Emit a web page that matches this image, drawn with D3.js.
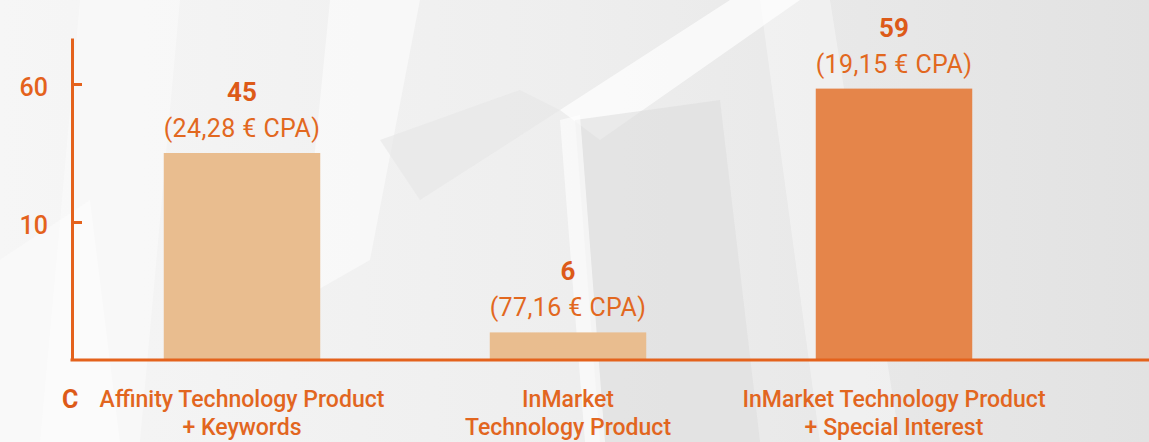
<!DOCTYPE html>
<html>
<head>
<meta charset="utf-8">
<script src="https://cdn.jsdelivr.net/npm/d3@7"></script>
<style>
  html, body { margin: 0; padding: 0; overflow: hidden; }
  body { width: 1149px; height: 442px; }
  text { font-family: Roboto, "Open Sans", sans-serif; }
</style>
</head>
<body>
<div id="chart"></div>
<script>
// chart data
var categories = [
  ["Affinity Technology Product", "+ Keywords"],
  ["InMarket", "Technology Product"],
  ["InMarket Technology Product", "+ Special Interest"]
];
var conversions = [45, 6, 59];
var cpaLabels = ["(24,28 € CPA)", "(77,16 € CPA)", "(19,15 € CPA)"];
var barColors = ["#e9bd8f", "#e9bd8f", "#e5854a"];
var tickValues = [30, 60];
var tickLabels = ["10", "60"];

var W = 1149, H = 442;
var orange = "#e4621c";
var squeeze = 0.96; // slightly condensed look

var svg = d3.select("#chart")
  .append("svg")
    .attr("width", W)
    .attr("height", H);

// background
var defs = svg.append("defs");
var grad = defs.append("linearGradient").attr("id", "bg")
  .attr("x1", "0").attr("y1", "0").attr("x2", "1").attr("y2", "0");
grad.append("stop").attr("offset", "0").attr("stop-color", "#f6f6f6");
grad.append("stop").attr("offset", "0.5").attr("stop-color", "#eeeeee");
grad.append("stop").attr("offset", "1").attr("stop-color", "#e2e2e2");
svg.append("rect").attr("width", W).attr("height", H).attr("fill", "url(#bg)");

var shapes = [
  {pts: [[80,0],[180,0],[140,442],[40,442]], fill: "#ffffff", op: 0.35},
  {pts: [[330,0],[420,0],[370,260],[300,300]], fill: "#ffffff", op: 0.5},
  {pts: [[560,110],[730,0],[800,0],[600,140]], fill: "#ffffff", op: 0.7},
  {pts: [[575,120],[720,100],[760,442],[600,442]], fill: "#dcdcdc", op: 0.55},
  {pts: [[560,120],[580,115],[605,442],[585,442]], fill: "#ffffff", op: 0.6},
  {pts: [[760,0],[830,0],[900,442],[820,442]], fill: "#ffffff", op: 0.35},
  {pts: [[0,260],[90,200],[120,442],[0,442]], fill: "#ffffff", op: 0.4},
  {pts: [[380,140],[520,90],[560,110],[420,200]], fill: "#e6e6e6", op: 0.6}
];
svg.selectAll("polygon.bg")
  .data(shapes)
  .enter()
  .append("polygon")
    .attr("class", "bg")
    .attr("points", function(d) { return d.pts.join(" "); })
    .attr("fill", function(d) { return d.fill; })
    .attr("opacity", function(d) { return d.op; });

// scales
var x = d3.scaleBand()
  .domain(d3.range(categories.length))
  .range([79, 1057])
  .paddingInner(0.52)
  .paddingOuter(0.26);

var y = d3.scaleLinear()
  .domain([0, 70])
  .range([360, 38]);

var x0 = 72;

// bars
svg.selectAll("rect.bar")
  .data(conversions)
  .enter()
  .append("rect")
    .attr("class", "bar")
    .attr("x", function(d, i) { return x(i); })
    .attr("y", function(d) { return y(d); })
    .attr("width", x.bandwidth())
    .attr("height", function(d) { return y(0) - y(d); })
    .attr("fill", function(d, i) { return barColors[i]; });

// y axis
var yAxis = svg.append("g")
  .attr("transform", "translate(" + x0 + ",0)")
  .call(d3.axisLeft(y)
    .tickValues(tickValues)
    .tickFormat(function(d, i) { return tickLabels[i]; })
    .tickSizeInner(-10)
    .tickSizeOuter(0)
    .tickPadding(24));
yAxis.select(".domain").attr("stroke", orange).attr("stroke-width", 3);
yAxis.selectAll(".tick line").attr("stroke", orange).attr("stroke-width", 3);
yAxis.selectAll(".tick text")
  .attr("fill", orange)
  .style("font-size", "25px")
  .style("font-weight", "500")
  .attr("dy", "0.45em");

// x baseline
svg.append("line")
  .attr("x1", x0 - 1.5).attr("x2", W)
  .attr("y1", y(0)).attr("y2", y(0))
  .attr("stroke", orange).attr("stroke-width", 3);

// value labels
var vals = svg.selectAll("g.val")
  .data(conversions)
  .enter()
  .append("g")
    .attr("class", "val")
    .attr("transform", function(d, i) {
      return "translate(" + (x(i) + x.bandwidth() / 2) + "," + y(d) + ")";
    });
vals.append("text")
  .attr("y", -52)
  .attr("text-anchor", "middle")
  .attr("fill", "#dd5a18")
  .style("font-size", "26px")
  .style("font-weight", "bold")
  .text(function(d) { return d; });
vals.append("text")
  .attr("y", -16)
  .attr("text-anchor", "middle")
  .attr("fill", "#e2681f")
  .style("font-size", "25px")
  .style("letter-spacing", "0.4px")
  .text(function(d, i) { return cpaLabels[i]; });

// category labels
var cats = svg.selectAll("g.cat")
  .data(categories)
  .enter()
  .append("g")
    .attr("class", "cat")
    .attr("transform", function(d, i) {
      return "translate(" + (x(i) + x.bandwidth() / 2) + ",407) scale(" + squeeze + ",1)";
    });
cats.selectAll("text")
  .data(function(d) { return d; })
  .enter()
  .append("text")
    .attr("y", function(d, j) { return j * 28; })
    .attr("text-anchor", "middle")
    .attr("fill", "#e2661f")
    .style("font-size", "24px")
    .style("font-weight", "500")
    .text(function(d) { return d; });

// stray axis letter
svg.append("text")
  .attr("x", 62).attr("y", 408)
  .attr("fill", "#dd5a18")
  .style("font-size", "25px")
  .style("font-weight", "bold")
  .text("C");
</script>
</body>
</html>
